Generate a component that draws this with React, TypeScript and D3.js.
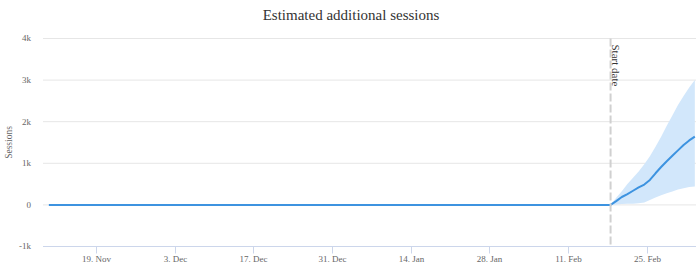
import React from "react";
import * as d3 from "d3";

const historyDates = ["2019-11-10T14:00:00Z", "2020-02-18T14:00:00Z"];
const historyValues = [0, 0];

const forecastDates = [
  "2020-02-18T14:00:00Z", "2020-02-19T14:00:00Z", "2020-02-20T14:00:00Z", "2020-02-21T14:00:00Z",
  "2020-02-22T14:00:00Z", "2020-02-23T14:00:00Z", "2020-02-24T14:00:00Z", "2020-02-25T14:00:00Z",
  "2020-02-26T14:00:00Z", "2020-02-27T14:00:00Z", "2020-02-28T14:00:00Z", "2020-02-29T14:00:00Z",
  "2020-03-01T14:00:00Z", "2020-03-02T14:00:00Z", "2020-03-03T14:00:00Z", "2020-03-04T14:00:00Z",
];
const forecastMean = [0, 90, 190, 260, 340, 420, 490, 600, 760, 910, 1050, 1180, 1310, 1440, 1550, 1640];
const forecastUpper = [0, 170, 330, 500, 650, 800, 980, 1170, 1400, 1640, 1900, 2150, 2400, 2620, 2820, 3000];
const forecastLower = [0, 10, 20, 25, 30, 40, 60, 120, 180, 230, 280, 320, 370, 400, 430, 440];

const startDate = "2020-02-18T14:00:00Z";
const xTickDates = [
  "2019-11-19", "2019-12-03", "2019-12-17", "2019-12-31",
  "2020-01-14", "2020-01-28", "2020-02-11", "2020-02-25",
];
const yTicks = [-1000, 0, 1000, 2000, 3000, 4000];
const yTickLabels = ["-1k", "0", "1k", "2k", "3k", "4k"];

const W = 696;
const H = 276;
const plotLeft = 43;
const plotRight = 696;
const plotTop = 38.5;
const plotBottom = 246.5;
const FONT = "'Liberation Serif', 'DejaVu Serif', serif";

export default function App() {
  const x = d3
    .scaleUtc()
    .domain([new Date("2019-11-09T13:00:00Z"), new Date("2020-03-04T19:00:00Z")])
    .range([plotLeft, plotRight]);
  const y = d3.scaleLinear().domain([-1000, 4000]).range([plotBottom, plotTop]);

  const line = d3
    .line<[Date, number]>()
    .x((d) => x(d[0]))
    .y((d) => y(d[1]));
  const area = d3
    .area<[Date, number, number]>()
    .x((d) => x(d[0]))
    .y0((d) => y(d[1]))
    .y1((d) => y(d[2]));

  const hist: [Date, number][] = historyDates.map((d, i) => [new Date(d), historyValues[i]]);
  const fc: [Date, number][] = forecastDates.map((d, i) => [new Date(d), forecastMean[i]]);
  const band: [Date, number, number][] = forecastDates.map((d, i) => [
    new Date(d),
    forecastLower[i],
    forecastUpper[i],
  ]);
  const sx = x(new Date(startDate));
  const fmt = d3.utcFormat("%-d. %b");

  return (
    <svg width={W} height={H} style={{ position: "absolute", left: 0, top: 0, fontFamily: FONT }}>
      <rect width={W} height={H} fill="#fff" />
      <text x={351} y={20} textAnchor="middle" fontSize={15} fill="#333">
        Estimated additional sessions
      </text>
      {yTicks.map((t, i) => (
        <g key={t}>
          {t !== -1000 && (
            <line x1={plotLeft} x2={plotRight} y1={y(t)} y2={y(t)} stroke="#e6e6e6" strokeWidth={1} />
          )}
          <text x={31} y={y(t)} dy="0.33em" textAnchor="end" fontSize={9} fill="#666">
            {yTickLabels[i]}
          </text>
        </g>
      ))}
      <text
        transform={`translate(12,${(plotTop + plotBottom) / 2}) rotate(-90)`}
        textAnchor="middle"
        fontSize={9.5}
        fill="#666"
      >
        Sessions
      </text>
      <line x1={plotLeft} x2={plotRight} y1={plotBottom} y2={plotBottom} stroke="#ccd6eb" strokeWidth={1} />
      {xTickDates.map((d) => {
        const xx = Math.round(x(new Date(d))) + 0.5;
        return (
          <g key={d}>
            <line x1={xx} x2={xx} y1={plotBottom} y2={plotBottom + 7} stroke="#ccd6eb" strokeWidth={1} />
            <text x={xx} y={plotBottom + 15} textAnchor="middle" fontSize={9} fill="#666">
              {fmt(new Date(d))}
            </text>
          </g>
        );
      })}
      <path d={area(band) || ""} fill="#d2e7fb" />
      <path d={line(hist) || ""} fill="none" stroke="#3d93e0" strokeWidth={2} />
      <path d={line(fc) || ""} fill="none" stroke="#3d93e0" strokeWidth={2} strokeLinejoin="round" />
      <line
        x1={sx}
        x2={sx}
        y1={plotTop}
        y2={plotBottom}
        stroke="#d0d0d0"
        strokeWidth={2}
        strokeDasharray="8,3"
      />
      <text
        transform={`translate(${sx + 1.5},${plotTop + 6}) rotate(90)`}
        fontSize={11}
        fill="#333"
      >
        Start date
      </text>
    </svg>
  );
}
